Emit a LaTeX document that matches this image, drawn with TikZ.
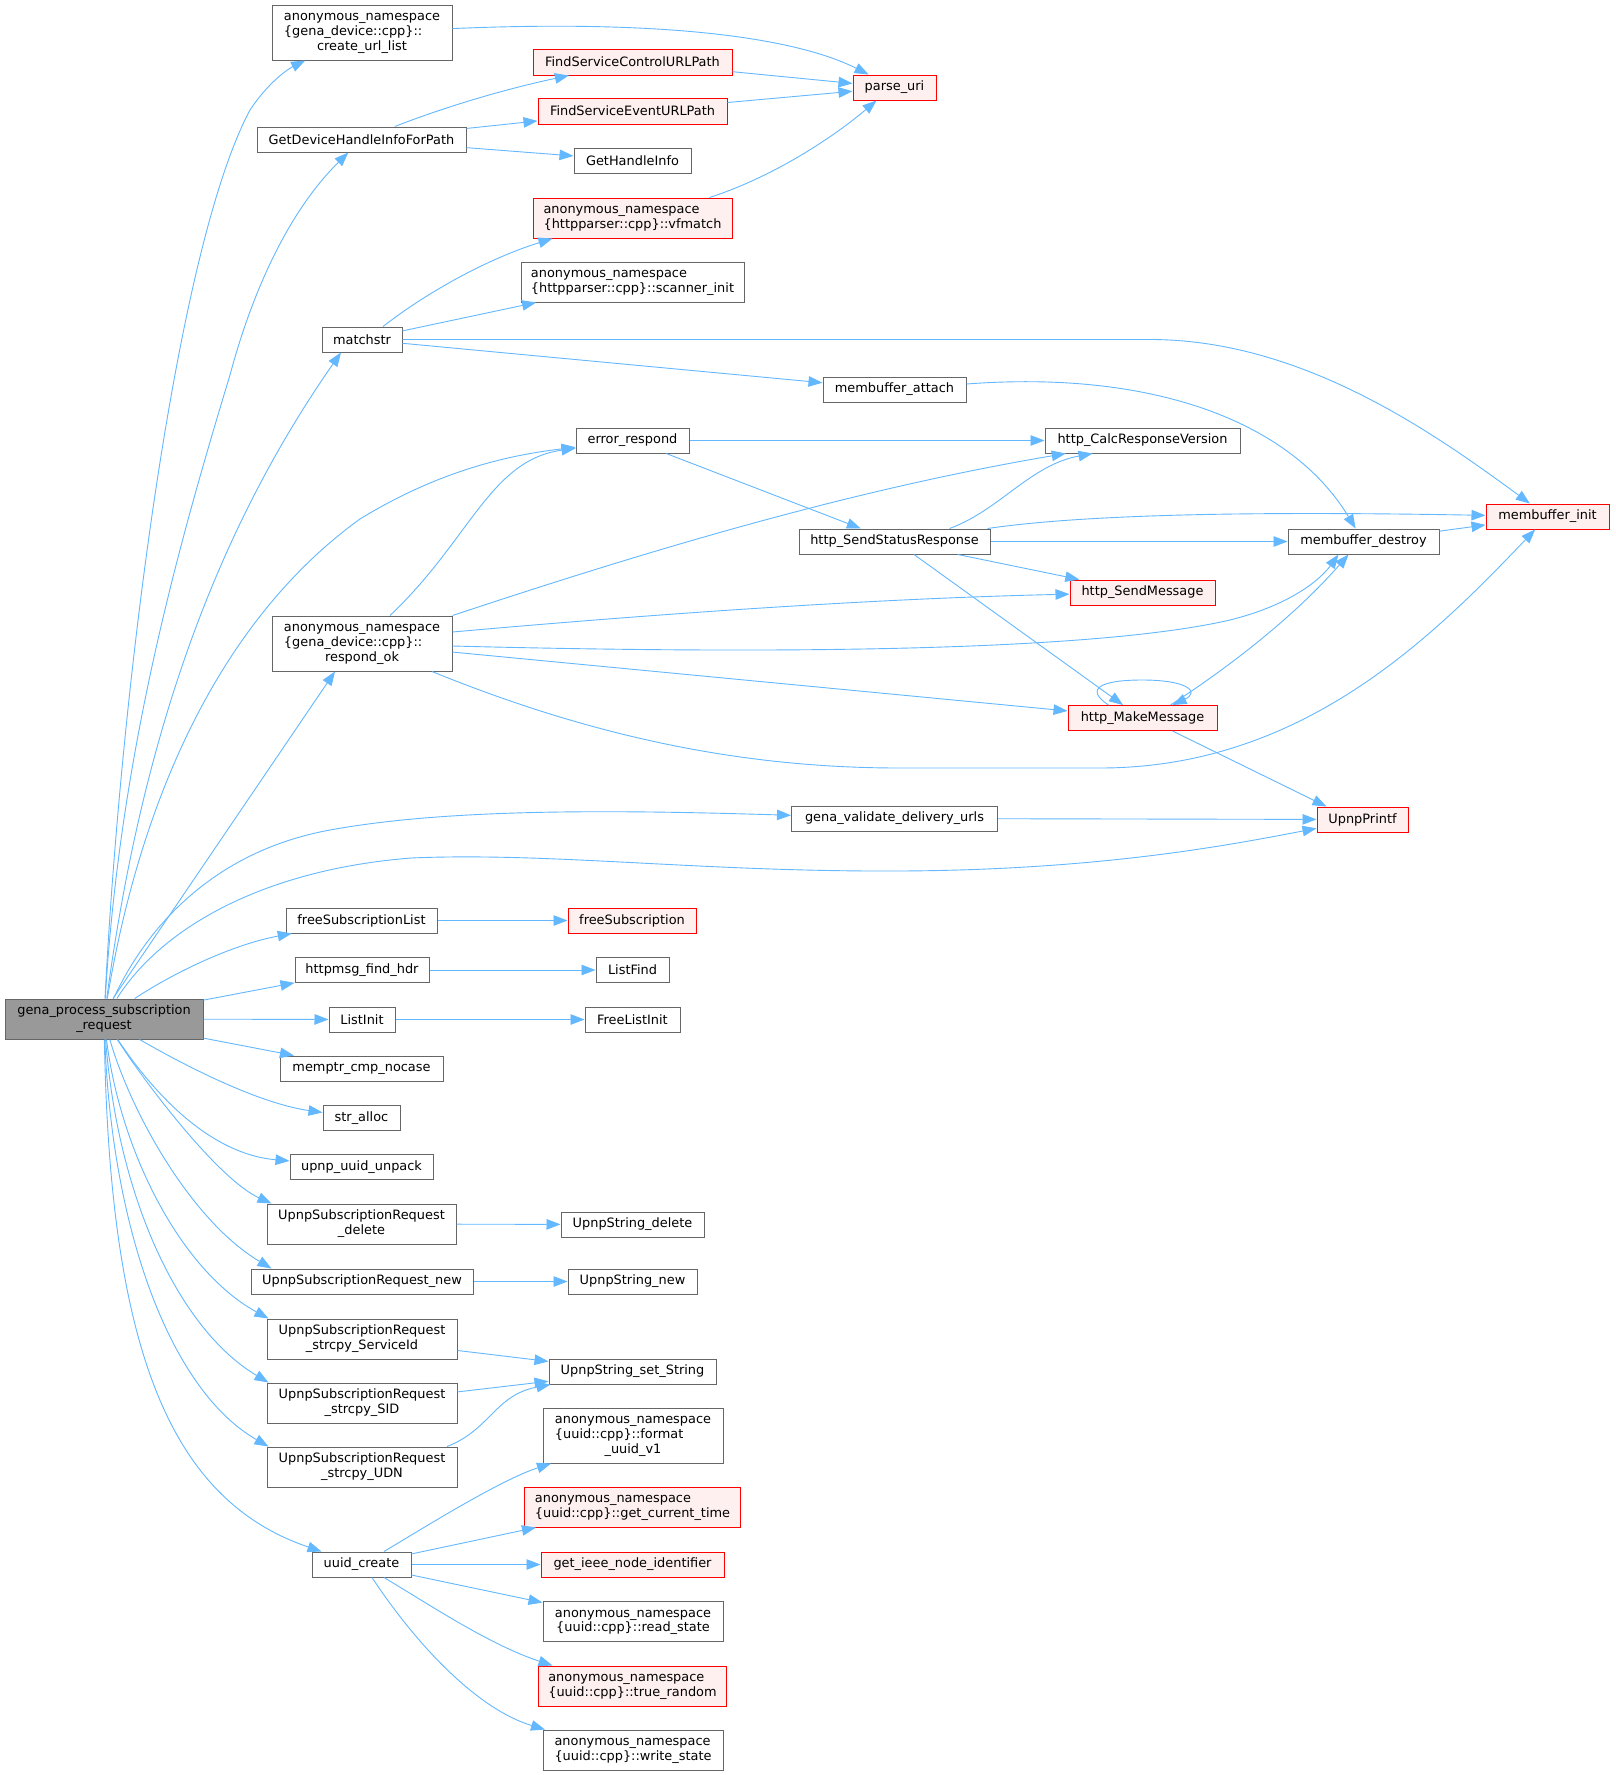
\documentclass[tikz,border=0pt]{standalone}
\usepackage{fontspec}
\setmainfont{DejaVu Sans}
\usetikzlibrary{arrows.meta}
\definecolor{edgec}{HTML}{63B8FF}
\definecolor{bordc}{HTML}{666666}
\definecolor{genafill}{HTML}{999999}
\definecolor{redfill}{HTML}{FFF0F0}
\definecolor{redbord}{HTML}{FF0000}
\newcommand\nodefont{\fontsize{12.9pt}{14.7pt}\selectfont}
\newcommand\mlab[2]{\begin{tabular}{@{}l@{}}#1\\\multicolumn{1}{@{}c@{}}{#2}\end{tabular}}
\tikzset{
  box/.style={draw=bordc, fill=white, line width=1pt, inner sep=0pt, text=black, font=\nodefont, align=center},
  rbox/.style={box, draw=redbord, fill=redfill},
  gbox/.style={box, fill=genafill},
  edge/.style={draw=edgec, line width=0.9pt, -{Triangle[length=14pt,width=10.5pt,fill=edgec]}},
}
\begin{document}
\begin{tikzpicture}[x=1pt,y=-1pt]
\useasboundingbox (0,0) rectangle (1615,1775);
\fill[white] (0,0) rectangle (1615,1775);
% column 1
\node[gbox, minimum width=198pt, minimum height=40pt] (gena) at (104,1019) {\mlab{gena\_process\_subscription}{\_request}};
% column 2
\node[box, minimum width=180pt, minimum height=55pt] (cul) at (362,32.5) {\mlab{anonymous\_namespace\\\{gena\_device::cpp\}::}{create\_url\_list}};
\node[box, minimum width=209pt, minimum height=25pt] (gdh) at (361.5,139.5) {GetDeviceHandleInfoForPath};
\node[box, minimum width=80pt, minimum height=25pt] (matchstr) at (362,339.5) {matchstr};
\node[box, minimum width=180pt, minimum height=55pt] (rok) at (362,643.5) {\mlab{anonymous\_namespace\\\{gena\_device::cpp\}::}{respond\_ok}};
\node[box, minimum width=151pt, minimum height=25pt] (fsl) at (361.5,920.5) {freeSubscriptionList};
\node[box, minimum width=134pt, minimum height=25pt] (hfh) at (362,970) {httpmsg\_find\_hdr};
\node[box, minimum width=66pt, minimum height=25pt] (li) at (362,1019.5) {ListInit};
\node[box, minimum width=163pt, minimum height=25pt] (mcn) at (361.5,1068.5) {memptr\_cmp\_nocase};
\node[box, minimum width=77pt, minimum height=25pt] (sa) at (361.5,1118) {str\_alloc};
\node[box, minimum width=143pt, minimum height=25pt] (uuu) at (361.5,1167) {upnp\_uuid\_unpack};
\node[box, minimum width=189pt, minimum height=40pt] (usrd) at (361.5,1224) {\mlab{UpnpSubscriptionRequest}{\_delete}};
\node[box, minimum width=222pt, minimum height=25pt] (usrn) at (362,1281.5) {UpnpSubscriptionRequest\_new};
\node[box, minimum width=190pt, minimum height=40pt] (usrs) at (362,1339) {\mlab{UpnpSubscriptionRequest}{\_strcpy\_ServiceId}};
\node[box, minimum width=190pt, minimum height=40pt] (usrsid) at (362,1403) {\mlab{UpnpSubscriptionRequest}{\_strcpy\_SID}};
\node[box, minimum width=190pt, minimum height=40pt] (usru) at (362,1467) {\mlab{UpnpSubscriptionRequest}{\_strcpy\_UDN}};
\node[box, minimum width=99pt, minimum height=25pt] (uc) at (361.5,1564.5) {uuid\_create};
% column 3
\node[rbox, minimum width=199pt, minimum height=26pt] (fscu) at (632.5,62) {FindServiceControlURLPath};
\node[rbox, minimum width=189pt, minimum height=26pt] (fseu) at (632.5,111) {FindServiceEventURLPath};
\node[box, minimum width=117pt, minimum height=25pt] (ghi) at (632.5,160.5) {GetHandleInfo};
\node[rbox, minimum width=199pt, minimum height=40pt] (vfm) at (632.5,218) {\mlab{anonymous\_namespace}{\{httpparser::cpp\}::vfmatch}};
\node[box, minimum width=223pt, minimum height=40pt] (si) at (632.5,282) {\mlab{anonymous\_namespace}{\{httpparser::cpp\}::scanner\_init}};
\node[box, minimum width=113pt, minimum height=25pt] (er) at (632.5,440.5) {error\_respond};
\node[rbox, minimum width=128pt, minimum height=25pt] (fs) at (632,920.5) {freeSubscription};
\node[box, minimum width=73pt, minimum height=25pt] (lf) at (632.5,970) {ListFind};
\node[box, minimum width=95pt, minimum height=25pt] (fli) at (632.5,1019.5) {FreeListInit};
\node[box, minimum width=143pt, minimum height=25pt] (usd) at (632.5,1224.5) {UpnpString\_delete};
\node[box, minimum width=129pt, minimum height=25pt] (usn) at (632.5,1281.5) {UpnpString\_new};
\node[box, minimum width=167pt, minimum height=25pt] (usss) at (632.5,1371.5) {UpnpString\_set\_String};
\node[box, minimum width=180pt, minimum height=55pt] (fmt) at (633,1435.5) {\mlab{anonymous\_namespace\\\{uuid::cpp\}::format}{\_uuid\_v1}};
\node[rbox, minimum width=216pt, minimum height=40pt] (gct) at (632.5,1507) {\mlab{anonymous\_namespace}{\{uuid::cpp\}::get\_current\_time}};
\node[rbox, minimum width=183pt, minimum height=25pt] (gini) at (632.5,1564.5) {get\_ieee\_node\_identifier};
\node[box, minimum width=180pt, minimum height=40pt] (rs) at (633,1621.5) {\mlab{anonymous\_namespace}{\{uuid::cpp\}::read\_state}};
\node[rbox, minimum width=188pt, minimum height=40pt] (tr) at (632.5,1686) {\mlab{anonymous\_namespace}{\{uuid::cpp\}::true\_random}};
\node[box, minimum width=180pt, minimum height=40pt] (ws) at (633,1750) {\mlab{anonymous\_namespace}{\{uuid::cpp\}::write\_state}};
% column 4
\node[rbox, minimum width=83pt, minimum height=25pt] (pu) at (894.5,87.5) {parse\_uri};
\node[box, minimum width=143pt, minimum height=25pt] (mba) at (894.5,389.5) {membuffer\_attach};
\node[box, minimum width=191pt, minimum height=25pt] (hssr) at (894.5,541.5) {http\_SendStatusResponse};
\node[box, minimum width=206pt, minimum height=25pt] (gvdu) at (894.5,818.5) {gena\_validate\_delivery\_urls};
% column 5
\node[box, minimum width=195pt, minimum height=25pt] (hcrv) at (1142.5,440.5) {http\_CalcResponseVersion};
\node[rbox, minimum width=145pt, minimum height=25pt] (hsm) at (1142.5,592.5) {http\_SendMessage};
\node[rbox, minimum width=149pt, minimum height=25pt] (hmm) at (1142.5,718) {http\_MakeMessage};
% column 6, 7
\node[box, minimum width=151pt, minimum height=25pt] (mbd) at (1363.5,541.5) {membuffer\_destroy};
\node[rbox, minimum width=91pt, minimum height=25pt] (upf) at (1362.5,819.5) {UpnpPrintf};
\node[rbox, minimum width=123pt, minimum height=25pt] (mbi) at (1547.5,516.5) {membuffer\_init};

% edges from gena
\draw[edge] (gena) .. controls (120,700) and (175,250) .. (250,110) .. controls (270,80) and (290,68) .. (cul);
\draw[edge] (gena) .. controls (120,750) and (180,540) .. (230,375) .. controls (250,300) and (285,215) .. (gdh);
\draw[edge] (gena) .. controls (140,750) and (210,540) .. ([xshift=-21pt]matchstr.south);
\draw[edge] (gena) .. controls (140,800) and (220,620) .. (360,519) .. controls (440,470) and (510,455) .. (er);
\draw[edge] ([xshift=9pt]gena.north) -- ([xshift=-27pt]rok.south);
\draw[edge] (gena) .. controls (150,920) and (220,850) .. (330,830) .. controls (450,808) and (620,810) .. (gvdu);
\draw[edge] (gena) .. controls (160,930) and (260,870) .. (411,858) .. controls (550,852) and (700,872) .. (900,871) .. controls (1100,870) and (1230,845) .. (upf);
\draw[edge] (gena) .. controls (170,975) and (230,945) .. (fsl);
\draw[edge] (gena) -- (hfh);
\draw[edge] (gena) -- (li);
\draw[edge] (gena) -- (mcn);
\draw[edge] (gena) .. controls (210,1080) and (270,1105) .. (sa);
\draw[edge] (gena) .. controls (165,1110) and (220,1155) .. (uuu);
\draw[edge] (gena) .. controls (150,1090) and (220,1180) .. ([xshift=5pt]usrd.north west);
\draw[edge] (gena) .. controls (130,1110) and (190,1220) .. ([xshift=21pt]usrn.north west);
\draw[edge] (gena) .. controls (120,1150) and (180,1270) .. ([xshift=2pt]usrs.north west);
\draw[edge] (gena) .. controls (118,1200) and (180,1330) .. ([xshift=2pt]usrsid.north west);
\draw[edge] (gena) .. controls (112,1230) and (170,1390) .. ([xshift=2pt]usru.north west);
\draw[edge] (gena) .. controls (110,1350) and (170,1500) .. ([xshift=10pt]uc.north west);

% column 2 edges
\draw[edge] (cul) .. controls (650,20) and (790,35) .. (pu);
\draw[edge] (gdh) .. controls (450,105) and (510,88) .. (fscu);
\draw[edge] (gdh) -- (fseu);
\draw[edge] (gdh) -- (ghi);
\draw[edge] (fscu) -- (pu);
\draw[edge] (fseu) -- (pu);
\draw[edge] ([xshift=77pt]vfm.north) .. controls (770,178) and (830,140) .. ([xshift=-18pt]pu.south);
\draw[edge] ([xshift=21pt]matchstr.north) .. controls (430,290) and (490,258) .. ([xshift=-80pt]vfm.south);
\draw[edge] (matchstr) -- (si);
\draw[edge] (matchstr) -- (1150,339.5) .. controls (1300,339.5) and (1430,430) .. (mbi);
\draw[edge] (matchstr) -- (mba);
\draw[edge] (mba) .. controls (1150,370) and (1290,420) .. (mbd);
\draw[edge] (er) -- (hcrv);
\draw[edge] (er) -- (hssr);
\draw[edge] ([xshift=28pt]rok.north) .. controls (470,540) and (490,460) .. (er);
\draw[edge] (rok.north east) .. controls (650,550) and (850,490) .. (hcrv);
\draw[edge] ([yshift=11.5pt]rok.east) .. controls (700,610) and (900,598) .. (hsm);
\draw[edge] ([yshift=-2.5pt]rok.east) .. controls (800,655) and (1100,650) .. (1230,620) .. controls (1290,605) and (1320,580) .. ([xshift=-25pt]mbd.south);
\draw[edge] (rok) -- (hmm);
\draw[edge] ([xshift=70pt]rok.south) .. controls (600,740) and (750,768) .. (900,768) -- (1100,768) .. controls (1300,768) and (1430,640) .. (mbi);
\draw[edge] ([xshift=55pt]hssr.north) .. controls (1000,510) and (1030,465) .. ([xshift=-50pt]hcrv.south);
\draw[edge] ([xshift=-3pt]hssr.north east) .. controls (1100,512) and (1300,512) .. (mbi);
\draw[edge] (hssr) -- (mbd);
\draw[edge] (hssr) -- (hsm);
\draw[edge] ([xshift=19.5pt]hssr.south) -- ([xshift=-19.5pt]hmm.north);
\draw[edge] ([xshift=-34pt]hmm.north) .. controls (1083,688) and (1103,680) .. (1142,680) .. controls (1188,680) and (1200,692) .. ([xshift=30pt]hmm.north);
\draw[edge] ([xshift=28pt]hmm.north) .. controls (1240,660) and (1300,610) .. ([xshift=-15pt]mbd.south);
\draw[edge] ([xshift=30pt]hmm.south) -- ([xshift=-36pt]upf.north);
\draw[edge] (mbd) -- (mbi);
\draw[edge] (gvdu) -- (upf);
\draw[edge] (fsl) -- (fs);
\draw[edge] (hfh) -- (lf);
\draw[edge] (li) -- (fli);
\draw[edge] (usrd) -- (usd);
\draw[edge] (usrn) -- (usn);
\draw[edge] (usrs) -- (usss);
\draw[edge] (usrsid) -- (usss);
\draw[edge] ([xshift=85pt]usru.north) .. controls (490,1430) and (495,1395) .. ([xshift=2pt]usss.south west);
\draw[edge] ([xshift=22.5pt]uc.north) .. controls (420,1530) and (500,1480) .. ([xshift=-82pt]fmt.south);
\draw[edge] (uc) -- (gct);
\draw[edge] (uc) -- (gini);
\draw[edge] (uc) -- (rs);
\draw[edge] ([xshift=22.5pt]uc.south) .. controls (430,1605) and (490,1645) .. ([xshift=-80pt]tr.north);
\draw[edge] ([xshift=10.5pt]uc.south) .. controls (420,1650) and (480,1710) .. ([xshift=-88pt]ws.north);
\end{tikzpicture}
\end{document}
